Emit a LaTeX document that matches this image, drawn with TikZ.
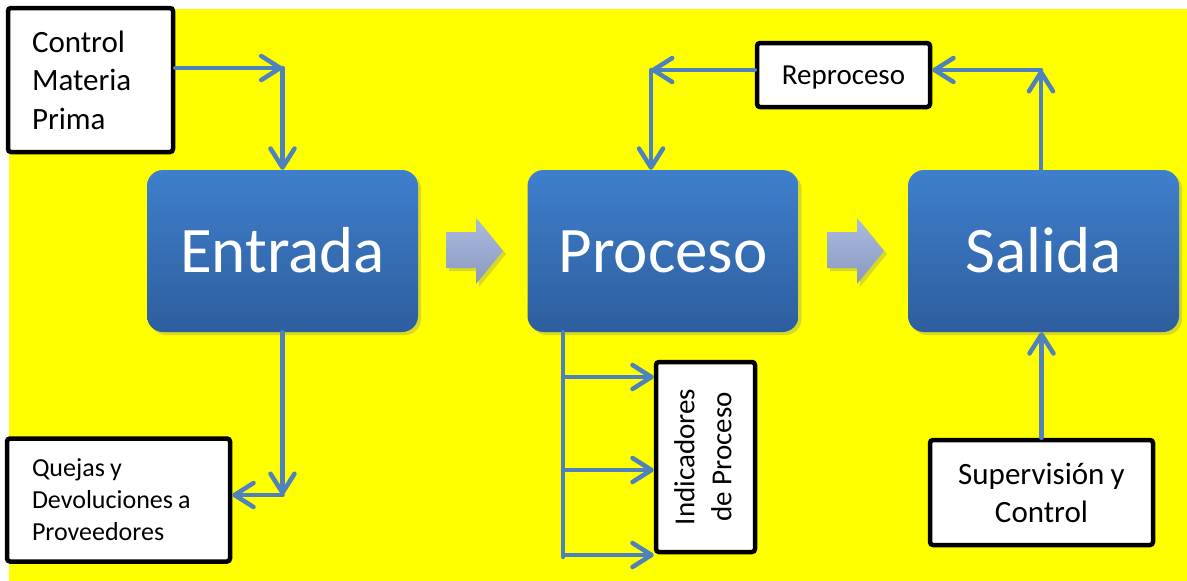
\documentclass[tikz,border=0pt]{standalone}
\usepackage{fontspec}
\setmainfont{Carlito}
\usetikzlibrary{arrows.meta,shadows,calc}
\definecolor{bg}{RGB}{255,255,0}
\definecolor{flow}{RGB}{79,129,189}
\definecolor{stagetop}{RGB}{62,127,204}
\definecolor{stagebot}{RGB}{46,94,158}
\definecolor{chevtop}{RGB}{170,186,224}
\definecolor{chevbot}{RGB}{138,153,190}

\tikzset{
  stage/.style={rounded corners=16pt, top color=stagetop, bottom color=stagebot,
    minimum width=271pt, minimum height=162pt, inner sep=0pt,
    text=white, font=\fontsize{65}{78}\selectfont, text height=42pt, text depth=0pt,
    drop shadow={opacity=0.3, shadow xshift=3pt, shadow yshift=-3pt}},
  note/.style={draw=black, line width=4.5pt, fill=white, rounded corners=3pt, inner sep=0pt},
  flowline/.style={draw=flow, line width=4.5pt, line cap=round, line join=round},
  flowarrow/.style={flowline, -{Straight Barb[length=19pt,width=24pt,round]}},
  chevron/.style={top color=chevtop, bottom color=chevbot,
    drop shadow={opacity=0.3, shadow xshift=3pt, shadow yshift=-3pt}},
}

\begin{document}
\begin{tikzpicture}[x=1pt,y=-1pt]
  \useasboundingbox (0,0) rectangle (1187,581);
  \fill[white] (0,0) rectangle (1187,581);
  \fill[bg] (9,9) rectangle (1187,581);

  % main stages
  \node[stage] (entrada) at (282.5,251) {Entrada};
  \node[stage] (proc) at (663,251) {Proceso};
  \node[stage] (sal) at (1043.5,251) {Salida};

  % block arrows between stages
  \path[chevron] (446,232) -- (476,232) -- (476,218) -- (503,251) -- (476,284)
    -- (476,268) -- (446,268) -- cycle;
  \path[chevron] (827,232) -- (857,232) -- (857,218) -- (884,251) -- (857,284)
    -- (857,268) -- (827,268) -- cycle;

  % side notes
  \node[note, minimum width=165pt, minimum height=144pt, text width=117pt, align=left,
    font=\fontsize{31}{38.5}\selectfont] (ctrl) at (90.5,80) {Control\\Materia\\Prima};
  \node[note, minimum width=223pt, minimum height=123pt, text width=173pt, align=left,
    font=\fontsize{26}{32}\selectfont] (ques) at (118.5,500)
    {\spaceskip=0.2em\relax Quejas y\\Devoluciones a\\Proveedores};
  \node[note, minimum width=173pt, minimum height=64pt, text height=19pt, text depth=0pt,
    font=\fontsize{29}{35}\selectfont] (rep) at (843.5,75) {Reproceso};
  \node[note, minimum width=223pt, minimum height=105pt, align=center,
    font=\fontsize{31}{38}\selectfont] (sup) at (1041.5,492.5)
    {\spaceskip=0.2em\relax Supervisión y\\Control};
  \node[note, minimum width=99pt, minimum height=190pt,
    font=\fontsize{29}{37}\selectfont] (ind) at (705.5,457)
    {\rotatebox{90}{\begin{tabular}{@{}c@{}}Indicadores\\de Proceso\end{tabular}}};

  % corner points of the connectors
  \coordinate (k1) at (282.5,68);
  \coordinate (k2) at (282.5,495);
  \coordinate (k3) at (651,70);
  \coordinate (k4) at (1041,70);
  \coordinate (k5) at (563,557);
  \coordinate (b1) at (563,377);
  \coordinate (b2) at (563,470);
  \coordinate (b3) at (563,555);

  % input side
  \draw[flowarrow] (ctrl.east |- k1) -- (k1);
  \draw[flowarrow] (k1) -- (entrada.north);
  \draw[flowarrow] (entrada.south) -- (k2);
  \draw[flowarrow] (k2) -- (k2 -| ques.east);

  % rework loop
  \draw[flowarrow] (k4 |- sal.north) -- (k4);
  \draw[flowarrow] (k4) -- (k4 -| rep.east);
  \draw[flowarrow] (rep.west |- k3) -- (k3);
  \draw[flowarrow] (k3) -- (k3 |- proc.north);

  % supervision
  \draw[flowarrow] (sup.north) -- (sup.north |- sal.south);

  % process indicators
  \draw[flowline] (k5 |- proc.south) -- (k5);
  \draw[flowarrow] (b1) -- (b1 -| ind.west);
  \draw[flowarrow] (b2) -- (b2 -| ind.west);
  \draw[flowarrow] (b3) -- (b3 -| ind.west);
\end{tikzpicture}
\end{document}
